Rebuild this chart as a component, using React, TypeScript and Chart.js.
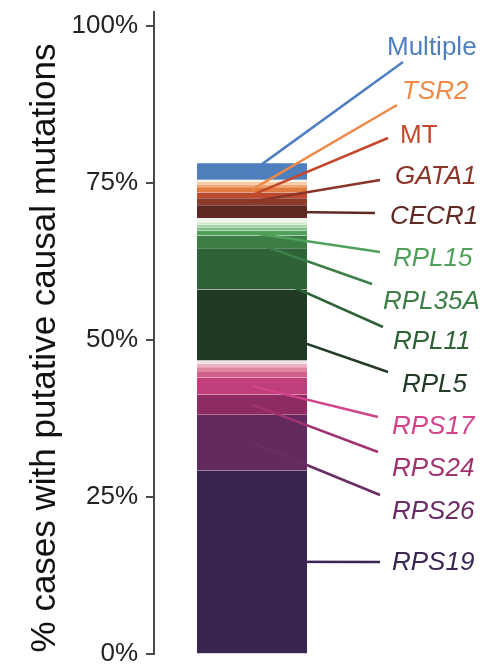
import React, { useEffect, useRef } from 'react';
import { Chart, registerables } from 'chart.js';

Chart.register(...registerables);

// ---- data (bottom of the stack to the top) ----
const categories = ['DBA cases'];

const segmentNames = [
  'RPS19', 'RPS26', 'RPS24', 'RPS17',
  'Other RPS a', 'Other RPS b', 'Other RPS c', 'Other RPS d',
  'RPL5', 'RPL11', 'RPL35A', 'RPL15',
  'Other RPL a', 'Other RPL b', 'Other RPL c', 'Other RPL d',
  'CECR1', 'GATA1', 'MT', 'TSR2',
  'Other non-RP a', 'Other non-RP b', 'Other non-RP c',
  'Multiple',
];

const segmentValues = [
  29.3, 8.85, 3.2, 2.7,
  1.05, 0.65, 0.55, 0.5,
  11.3, 6.6, 2.0, 0.8,
  0.5, 0.4, 0.4, 0.65,
  2.1, 1.1, 0.95, 0.8,
  0.45, 0.4, 0.3,
  2.7,
];

const segmentColors = [
  '#3a2450', '#632a5e', '#8e2b62', '#bf3f7d',
  '#d35f8c', '#e0859f', '#eeb3c3', '#f8e1e4',
  '#213a25', '#2f6337', '#3d7d46', '#50a05c',
  '#7dbd84', '#a8d5a8', '#cde8c8', '#eef7ea',
  '#5e2820', '#8c3a2a', '#bd4a2e', '#e07a3f',
  '#f0a673', '#f8cda8', '#fdf0e2',
  '#4d7fbd',
];

const labeledGenes = ['Multiple', 'TSR2', 'MT', 'GATA1', 'CECR1', 'RPL15', 'RPL35A', 'RPL11', 'RPL5', 'RPS17', 'RPS24', 'RPS26', 'RPS19'];
const labelColors = ['#4f7fc0', '#ec8a4a', '#c4472b', '#8b3428', '#5f2a22', '#4fa05b', '#3d7f47', '#2e6236', '#213b26', '#d1438a', '#a0336f', '#6a2c65', '#3b2653'];
const labelItalic = [false, true, false, true, true, true, true, true, true, true, true, true, true];

const tickValues = [0, 25, 50, 75, 100];
const yTitle = '% cases with putative causal mutations';

// ---- layout of the repelled labels and the axis title (pixels) ----
const labelLayout: Record<string, { tx: number; ty: number; lx: number; ly: number }> = {
  Multiple: { tx: 387, ty: 48, lx: 403, ly: 62 },
  TSR2: { tx: 402, ty: 92, lx: 397, ly: 105 },
  MT: { tx: 400, ty: 136, lx: 388, ly: 138 },
  GATA1: { tx: 395, ty: 177, lx: 380, ly: 180 },
  CECR1: { tx: 390, ty: 217, lx: 375, ly: 213 },
  RPL15: { tx: 393, ty: 259, lx: 380, ly: 252 },
  RPL35A: { tx: 383, ty: 302, lx: 372, ly: 284 },
  RPL11: { tx: 393, ty: 342, lx: 383, ly: 327 },
  RPL5: { tx: 402, ty: 385, lx: 388, ly: 372 },
  RPS17: { tx: 392, ty: 427, lx: 378, ly: 417 },
  RPS24: { tx: 392, ty: 469, lx: 378, ly: 452 },
  RPS26: { tx: 392, ty: 512, lx: 380, ly: 495 },
  RPS19: { tx: 392, ty: 563, lx: 380, ly: 562 },
};
const titlePos = { x: 45, y: 348 };

const FONT = '"Liberation Sans", Arial, Helvetica, sans-serif';

const leaderPlugin = {
  id: 'leaderLabels',
  afterDatasetsDraw(chart: any) {
    const ctx = chart.ctx;
    labeledGenes.forEach((name, k) => {
      const idx = segmentNames.indexOf(name);
      const el = chart.getDatasetMeta(idx).data[0];
      if (!el) return;
      const p = el.getProps(['x', 'y', 'base'], true);
      const midY = (p.y + p.base) / 2;
      const lay = labelLayout[name];
      ctx.save();
      ctx.strokeStyle = labelColors[k];
      ctx.lineWidth = 2.5;
      ctx.beginPath();
      ctx.moveTo(p.x, midY);
      ctx.lineTo(lay.lx, lay.ly);
      ctx.stroke();
      ctx.font = `${labelItalic[k] ? 'italic ' : ''}26px ${FONT}`;
      ctx.fillStyle = labelColors[k];
      ctx.textAlign = 'left';
      ctx.textBaseline = 'middle';
      ctx.fillText(name, lay.tx, lay.ty);
      ctx.restore();
    });
    // y-axis title
    ctx.save();
    ctx.translate(titlePos.x, titlePos.y);
    ctx.rotate(-Math.PI / 2);
    ctx.font = `35px ${FONT}`;
    ctx.fillStyle = '#111';
    ctx.textAlign = 'center';
    ctx.textBaseline = 'middle';
    ctx.fillText(yTitle, 0, 0);
    ctx.restore();
  },
};

export default function App() {
  const canvasRef = useRef<HTMLCanvasElement | null>(null);

  useEffect(() => {
    if (!canvasRef.current) return;
    const chart = new Chart(canvasRef.current, {
      type: 'bar',
      data: {
        labels: categories,
        datasets: segmentNames.map((n, i) => ({
          label: n,
          data: [segmentValues[i]],
          backgroundColor: segmentColors[i],
          borderColor: 'rgba(255,255,255,0.35)',
          borderWidth: { top: 0.6, bottom: 0, left: 0, right: 0 },
          borderSkipped: false,
          barThickness: 110,
        })),
      },
      options: {
        responsive: false,
        animation: false,
        devicePixelRatio: 1,
        layout: { padding: { left: 0, right: 134, top: 0, bottom: 0 } },
        plugins: {
          legend: { display: false },
          tooltip: { enabled: false },
        },
        scales: {
          x: { display: false, stacked: true },
          y: {
            stacked: true,
            min: 0,
            max: 102.28,
            afterBuildTicks: (s: any) => {
              s.ticks = tickValues.map((v) => ({ value: v }));
            },
            afterFit: (s: any) => {
              s.width = 154;
              s.paddingTop = 12;
              s.paddingBottom = 10.7;
            },
            border: { display: true, color: '#4a4a4a', width: 2 },
            grid: { drawOnChartArea: false, drawTicks: true, tickLength: 8, color: '#4a4a4a', lineWidth: 2 },
            ticks: {
              padding: 8,
              color: '#222',
              font: { family: FONT, size: 26, lineHeight: 1 },
              callback: (v: any) => `${v}%`,
            },
            title: { display: false },
          },
        },
      },
      plugins: [leaderPlugin],
    });
    return () => chart.destroy();
  }, []);

  return (
    <div style={{ position: 'fixed', top: 0, left: 0, width: 484, height: 665, overflow: 'hidden', background: '#fff' }}>
      <canvas ref={canvasRef} width={484} height={665} style={{ display: 'block' }} />
    </div>
  );
}
